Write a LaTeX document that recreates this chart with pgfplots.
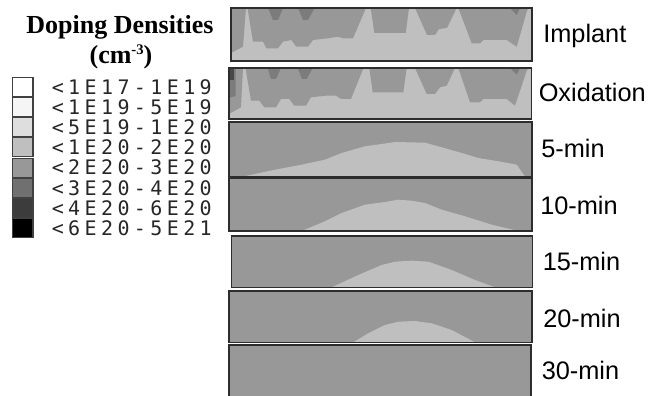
\documentclass[border=0pt]{standalone}
\usepackage{fontspec}
\setmainfont{Liberation Serif}
\newfontfamily\arialf{Liberation Sans}
\newfontfamily\legfont[LetterSpace=22]{DejaVu Sans Mono}
\usepackage{pgfplots}
\pgfplotsset{compat=1.18}
\definecolor{lt}{RGB}{191,191,191}
\definecolor{dk}{RGB}{152,152,152}
\definecolor{dkk}{RGB}{124,124,124}
\definecolor{dkkk}{RGB}{72,72,72}
\definecolor{bord}{RGB}{45,45,45}
\pgfplotsset{panel/.style={anchor=north west, scale only axis, ticks=none, y dir=reverse,
  xmin=0, ymin=0, axis on top, enlargelimits=false, clip=true,
  axis line style={draw=bord, line width=1pt}}}
\begin{document}
\begin{tikzpicture}
\path[use as bounding box] (0,0) rectangle (495.75pt,297pt);
% Implant
\begin{axis}[panel, at={(173.25pt,291pt)}, width=225.75pt, height=39.75pt, xmax=301, ymax=53]
\addplot[fill=lt, draw=none] coordinates {(0,0) (301,0) (301,53) (0,53)} -- cycle;
\addplot[fill=dk, draw=none] coordinates {(0,0) (15,0) (12,38.7) (0,45)} -- cycle;
\addplot[fill=dk, draw=none] coordinates {(16.5,0) (22,33.7) (32,33.7) (35.3,40.3) (47,40.3) (52,33.7) (60.3,32) (65.3,38.7) (77,38.7) (82,32) (97,30.3) (107,28.7) (112,30.3) (122,30.3) (135,0)} -- cycle;
\addplot[fill=dk, draw=none] coordinates {(139.7,0) (143.3,25) (174.7,25) (178,0)} -- cycle;
\addplot[fill=dk, draw=none] coordinates {(184,0) (196,27) (204,27) (208,21) (216,20) (225.7,0)} -- cycle;
\addplot[fill=dk, draw=none] coordinates {(227.3,0) (240.7,35.3) (249,35.3) (252.3,32) (275.7,32) (285.7,38.7) (295.7,3.7) (297.3,0)} -- cycle;
\addplot[fill=dkk, draw=none] coordinates {(37,0) (52,0) (47,12) (42,12)} -- cycle;
\addplot[fill=dkk, draw=none] coordinates {(67,0) (83.7,0) (77,12) (72,12)} -- cycle;
\addplot[fill=dkk, draw=none] coordinates {(279,0) (289,0) (285.7,7)} -- cycle;
\end{axis}
% Oxidation
\begin{axis}[panel, at={(171.75pt,246pt)}, width=226.875pt, height=38.25pt, xmax=302.5, ymax=51]
\addplot[fill=lt, draw=none] coordinates {(0,0) (302.5,0) (302.5,51) (0,51)} -- cycle;
\addplot[fill=dk, draw=none] coordinates {(0,0) (14,0) (12,39.3) (0,46)} -- cycle;
\addplot[fill=dk, draw=none] coordinates {(16.5,0) (22,32.7) (30.3,32.7) (35.3,39.3) (47,39.3) (52,31) (60.3,31) (65.3,37.7) (77,37.7) (82,29.3) (97,27.7) (107,27.7) (112,31) (122,31) (134.5,0)} -- cycle;
\addplot[fill=dk, draw=none] coordinates {(140.3,0) (143.7,24.3) (174.3,24.3) (177.7,0)} -- cycle;
\addplot[fill=dk, draw=none] coordinates {(186,0) (197.7,26) (206,26) (211,19.3) (217.7,17.7) (226,0)} -- cycle;
\addplot[fill=dk, draw=none] coordinates {(229.3,0) (241,34.3) (251,34.3) (254.3,31) (277.7,31) (286,37.7) (297.7,2.7) (299.3,0)} -- cycle;
\addplot[fill=dkk, draw=none] coordinates {(38.7,0) (52,0) (47,11) (42,11)} -- cycle;
\addplot[fill=dkk, draw=none] coordinates {(68.7,0) (83.7,0) (77.7,11) (73,11)} -- cycle;
\addplot[fill=dkk, draw=none] coordinates {(281,0) (291,0) (287.7,6.7)} -- cycle;
\addplot[fill=dkk, draw=none] coordinates {(0,0) (6.5,0) (6.5,28) (0,30)} -- cycle;
\addplot[fill=dkkk, draw=none] coordinates {(0,0) (4.5,0) (4.5,12.5) (0,12.5)} -- cycle;
\end{axis}
% 5-min
\begin{axis}[panel, at={(171.75pt,205.5pt)}, width=227.25pt, height=40.875pt, xmax=303, ymax=54.5]
\addplot[fill=dk, draw=none] coordinates {(0,0) (303,0) (303,54.5) (0,54.5)} -- cycle;
\addplot[fill=lt, draw=none] coordinates {(14.3,54.5) (46,47.7) (72.7,42.7) (96,37.7) (112.7,31) (136,24.3) (152.7,22) (166,20) (196,20.7) (212.7,25.3) (232.7,31) (249.3,36) (269.3,39.3) (287.7,42.7) (296,54.5)} -- cycle;
\end{axis}
% 10-min
\begin{axis}[panel, at={(171.75pt,163.5pt)}, width=227.25pt, height=39.75pt, xmax=303, ymax=53]
\addplot[fill=dk, draw=none] coordinates {(0,0) (303,0) (303,53) (0,53)} -- cycle;
\addplot[fill=lt, draw=none] coordinates {(72.7,53) (96,43.3) (112.7,35) (136,26.7) (156,24) (169.3,21.7) (182.7,22.7) (196,25) (212.7,31.7) (236,38.3) (262.7,46.7) (289.3,53)} -- cycle;
\end{axis}
% 15-min
\begin{axis}[panel, at={(173.775pt,120pt)}, width=225.525pt, height=38.475pt, xmax=300.7, ymax=51.3]
\addplot[fill=dk, draw=none] coordinates {(0,0) (300.7,0) (300.7,51.3) (0,51.3)} -- cycle;
\addplot[fill=lt, draw=none] coordinates {(100,51.3) (126.7,39) (150,29) (163.3,25.7) (180,24.7) (196.7,25.7) (220,34) (243.3,44) (263.3,51.3)} -- cycle;
\end{axis}
% 20-min
\begin{axis}[panel, at={(171.75pt,78.75pt)}, width=227.25pt, height=38.475pt, xmax=303, ymax=51.3]
\addplot[fill=dk, draw=none] coordinates {(0,0) (303,0) (303,51.3) (0,51.3)} -- cycle;
\addplot[fill=lt, draw=none] coordinates {(124.3,51.3) (139.3,42.3) (156,34) (169.3,30.7) (186,30) (202.7,32.3) (222.7,39) (246,51.3)} -- cycle;
\end{axis}
% 30-min
\begin{axis}[panel, at={(171.75pt,38.25pt)}, width=226.5pt, height=39.75pt, xmax=302, ymax=53]
\addplot[fill=dk, draw=none] coordinates {(0,0) (302,0) (302,53) (0,53)} -- cycle;
\end{axis}
\begin{scope}[shift={(0pt,297pt)}, x=0.75pt, y=-0.75pt]
\node[anchor=base, inner sep=0pt, font=\fontsize{19.5}{22}\selectfont\bfseries] at (120,34) {Doping Densities};
\node[anchor=base, inner sep=0pt, font=\fontsize{19.5}{22}\selectfont\bfseries] at (121,64) {(cm\raisebox{0.36em}{\fontsize{11}{11}\selectfont -3})};
\foreach \i/\g in {0/255,1/245,2/222,3/191,4/152,5/112,6/60,7/0} {
  \definecolor{tmpc}{RGB}{\g,\g,\g}
  \filldraw[fill=tmpc, draw=black!75, line width=0.8pt] (12.5,{76.7+20.2*\i+0.6}) rectangle (33,{76.7+20.2*(\i+1)-0.6});
}
\foreach \i/\t in {0/{<1E17-1E19},1/{<1E19-5E19},2/{<5E19-1E20},3/{<1E20-2E20},4/{<2E20-3E20},5/{<3E20-4E20},6/{<4E20-6E20},7/{<6E20-5E21}} {
  \node[anchor=west, inner sep=0pt, text=black!85, font=\legfont\fontsize{15}{16}\selectfont] at (51.5,{76.7+20.2*(\i+0.5)}) {\t};
}
\node[anchor=base west, inner sep=0pt, font=\arialf\fontsize{19}{22}\selectfont] at (543,43) {Implant};
\node[anchor=base west, inner sep=0pt, font=\arialf\fontsize{19}{22}\selectfont] at (538.5,102) {Oxidation};
\node[anchor=base west, inner sep=0pt, font=\arialf\fontsize{19}{22}\selectfont] at (541,158) {5-min};
\node[anchor=base west, inner sep=0pt, font=\arialf\fontsize{19}{22}\selectfont] at (540,215) {10-min};
\node[anchor=base west, inner sep=0pt, font=\arialf\fontsize{19}{22}\selectfont] at (542.5,271) {15-min};
\node[anchor=base west, inner sep=0pt, font=\arialf\fontsize{19}{22}\selectfont] at (543,328) {20-min};
\node[anchor=base west, inner sep=0pt, font=\arialf\fontsize{19}{22}\selectfont] at (541.5,380) {30-min};
\end{scope}
\end{tikzpicture}
\end{document}
